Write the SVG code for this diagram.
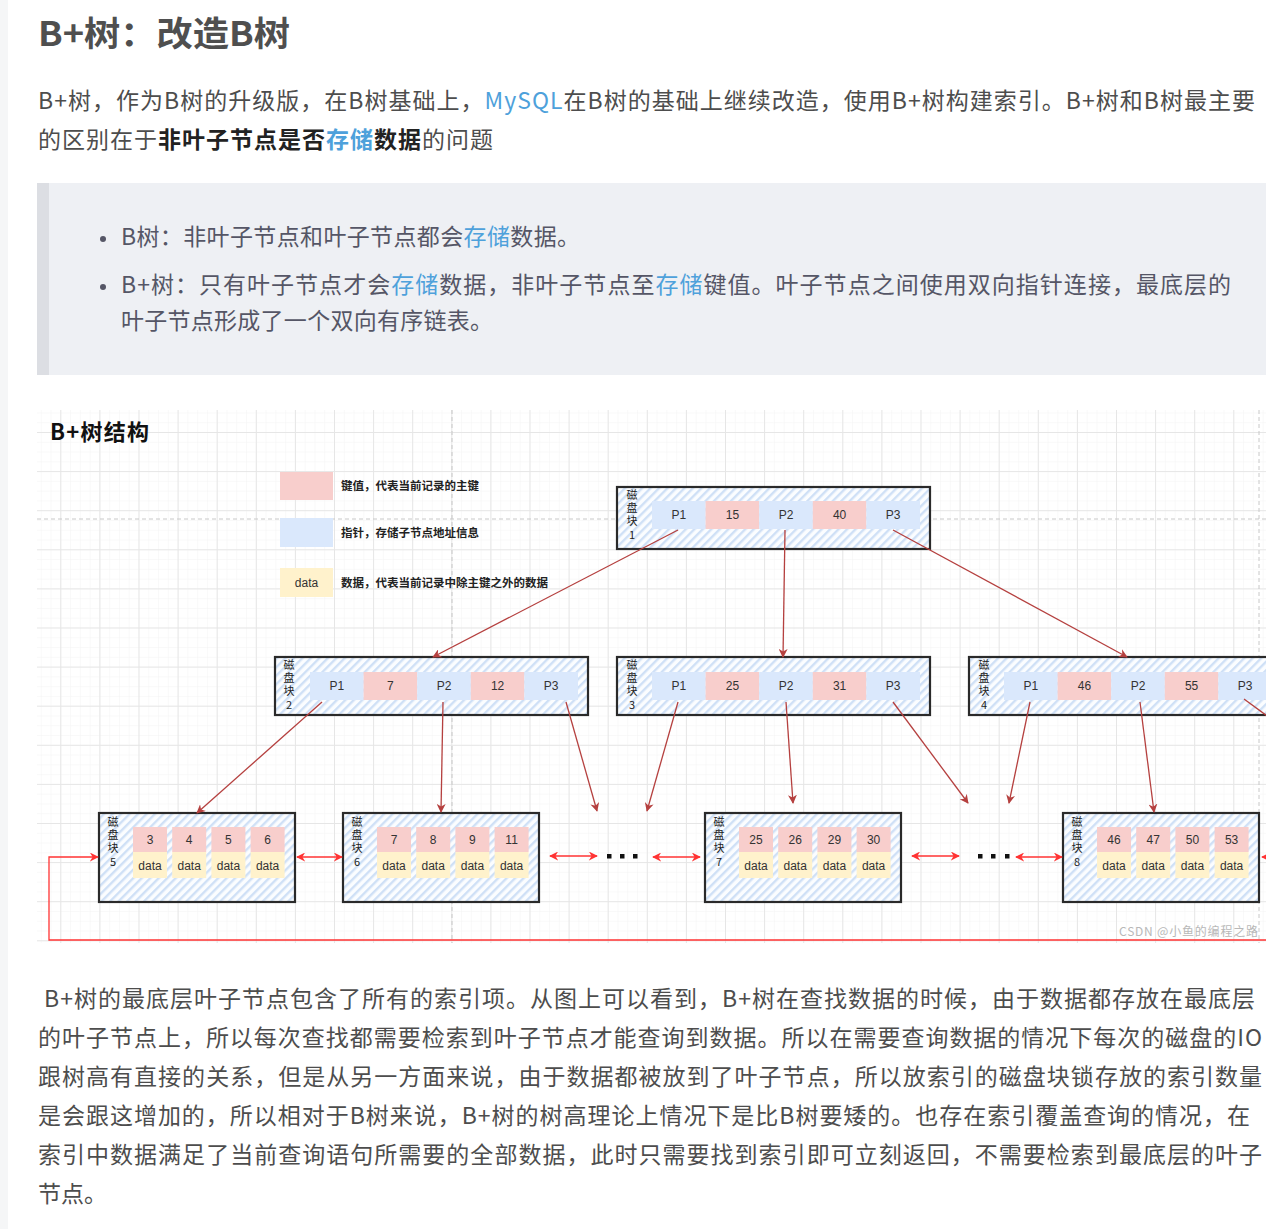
<svg xmlns="http://www.w3.org/2000/svg" width="1286" height="1229" viewBox="0 0 1286 1229">
<defs>
<style>
.body{font-family:"Noto Sans CJK SC","Liberation Sans",sans-serif;font-size:23px;fill:#4d4d4d}
.bq{font-family:"Noto Sans CJK SC","Liberation Sans",sans-serif;font-size:23px;fill:#555666}
.lnk{fill:#4ea1db}
.b{font-weight:bold;fill:#222}
.cell{font-family:"Liberation Sans","Noto Sans CJK SC",sans-serif;font-size:12px;fill:#333;text-anchor:middle}
.lbl{font-family:"Noto Sans CJK SC",sans-serif;font-size:11px;fill:#222;writing-mode:vertical-rl;text-orientation:upright;letter-spacing:2.4px}
.leg{font-family:"Noto Sans CJK SC",sans-serif;font-size:11.5px;font-weight:bold;fill:#222}
.node{fill:url(#hatch);stroke:#2a2a2a;stroke-width:2.2}
.k{fill:#f8cecc}
.p{fill:#dae8fc}
.d{fill:#fff2cc}
.tree{stroke:#b5403f;stroke-width:1.3;fill:none;marker-end:url(#ah)}
.lnkarr{stroke:#ff3333;stroke-width:1.3;fill:none;marker-end:url(#ar);marker-start:url(#arS)}
</style>
<pattern id="hatch" patternUnits="userSpaceOnUse" width="6" height="6" patternTransform="rotate(45)">
<rect width="6" height="6" fill="#fbfdff"/>
<rect x="0" y="0" width="2.4" height="6" fill="#cfe0f6"/>
</pattern>
<pattern id="minor" patternUnits="userSpaceOnUse" x="60.3" y="432" width="9.775" height="9.775">
<path d="M0,0 H9.775 M0,0 V9.775" stroke="#f4f4f4" stroke-width="1" fill="none"/>
</pattern>
<pattern id="major" patternUnits="userSpaceOnUse" x="60.3" y="432" width="39.1" height="39.1">
<path d="M0,0.5 H39.1 M0.5,0 V39.1" stroke="#e6e6e6" stroke-width="1" fill="none"/>
</pattern>
<marker id="ah" viewBox="0 0 10 10" refX="9" refY="5" markerWidth="9" markerHeight="9" markerUnits="userSpaceOnUse" orient="auto">
<path d="M0,0 L10,5 L0,10 L3,5 z" fill="#b5403f"/>
</marker>
<marker id="ar" viewBox="0 0 10 10" refX="9" refY="5" markerWidth="9" markerHeight="9" markerUnits="userSpaceOnUse" orient="auto">
<path d="M0,0 L10,5 L0,10 L3,5 z" fill="#ff3333"/>
</marker>
<marker id="arS" viewBox="0 0 10 10" refX="1" refY="5" markerWidth="9" markerHeight="9" markerUnits="userSpaceOnUse" orient="auto">
<path d="M10,0 L0,5 L10,10 L7,5 z" fill="#ff3333"/>
</marker>
<clipPath id="dclip"><rect x="37" y="410" width="1229" height="533"/></clipPath>
</defs>

<rect width="1286" height="1229" fill="#ffffff"/>
<rect x="0" y="0" width="8" height="1229" fill="#f5f6f7"/>

<g id="heading">
<text x="38" y="46" font-family="'Noto Sans CJK SC','Liberation Sans',sans-serif" font-size="34" font-weight="bold" fill="#4f4f4f" textLength="252" lengthAdjust="spacingAndGlyphs">B+树：改造B树</text>
</g>

<g id="intro">
<text class="body" x="38" y="109" textLength="1217">B+树，作为B树的升级版，在B树基础上，<tspan class="lnk">MySQL</tspan>在B树的基础上继续改造，使用B+树构建索引。B+树和B树最主要</text>
<text class="body" x="38" y="148" textLength="455">的区别在于<tspan class="b">非叶子节点是否</tspan><tspan class="b lnk" style="fill:#4ea1db">存储</tspan><tspan class="b">数据</tspan>的问题</text>
</g>

<g id="blockquote">
<rect x="37" y="183" width="1229" height="192" fill="#eef0f4"/>
<rect x="37" y="183" width="12" height="192" fill="#dcdee3"/>
<circle cx="103" cy="239" r="3" fill="#555666"/>
<circle cx="103" cy="287" r="3" fill="#555666"/>
<text class="bq" x="121" y="245" textLength="459">B树：非叶子节点和叶子节点都会<tspan class="lnk">存储</tspan>数据。</text>
<text class="bq" x="121" y="293" textLength="1110">B+树：只有叶子节点才会<tspan class="lnk">存储</tspan>数据，非叶子节点至<tspan class="lnk">存储</tspan>键值。叶子节点之间使用双向指针连接，最底层的</text>
<text class="bq" x="121" y="329" textLength="372">叶子节点形成了一个双向有序链表。</text>
</g>

<g id="diagram" clip-path="url(#dclip)">
<rect x="37" y="410" width="1229" height="533" fill="#ffffff"/>
<rect x="37" y="410" width="1229" height="533" fill="url(#minor)"/>
<rect x="37" y="410" width="1229" height="533" fill="url(#major)"/>
<path d="M37,519 H1266 M452,410 V943 M1259,410 V943" stroke="#c8c8c8" stroke-width="1" stroke-dasharray="4,3" fill="none"/>

<text x="50" y="440" font-family="'Noto Sans CJK SC',sans-serif" font-size="22" font-weight="bold" fill="#111" textLength="99">B+树结构</text>

<g id="legend">
<rect x="280" y="472" width="53" height="28" class="k"/>
<text class="leg" x="341" y="490">键值，代表当前记录的主键</text>
<rect x="280" y="518" width="53" height="29" class="p"/>
<text class="leg" x="341" y="537">指针，存储子节点地址信息</text>
<rect x="280" y="568" width="53" height="29" class="d"/>
<text class="cell" x="306.5" y="587">data</text>
<text class="leg" x="341" y="587">数据，代表当前记录中除主键之外的数据</text>
</g>

<g id="block1">
<rect class="node" x="617" y="487" width="313" height="62"/>
<text class="lbl" x="632" y="489">磁盘块1</text>
<rect class="p" x="652" y="501" width="53.6" height="28"/><rect class="k" x="705.6" y="501" width="53.6" height="28"/><rect class="p" x="759.2" y="501" width="53.6" height="28"/><rect class="k" x="812.8" y="501" width="53.6" height="28"/><rect class="p" x="866.4" y="501" width="53.6" height="28"/>
<text class="cell" y="519"><tspan x="678.8">P1</tspan><tspan x="732.4">15</tspan><tspan x="786">P2</tspan><tspan x="839.6">40</tspan><tspan x="893.2">P3</tspan></text>
</g>

<g id="block2">
<rect class="node" x="275" y="657" width="313" height="58"/>
<text class="lbl" x="289" y="659">磁盘块2</text>
<rect class="p" x="310" y="672" width="53.6" height="28"/><rect class="k" x="363.6" y="672" width="53.6" height="28"/><rect class="p" x="417.2" y="672" width="53.6" height="28"/><rect class="k" x="470.8" y="672" width="53.6" height="28"/><rect class="p" x="524.4" y="672" width="53.6" height="28"/>
<text class="cell" y="690"><tspan x="336.8">P1</tspan><tspan x="390.4">7</tspan><tspan x="444">P2</tspan><tspan x="497.6">12</tspan><tspan x="551.2">P3</tspan></text>
</g>

<g id="block3">
<rect class="node" x="617" y="657" width="313" height="58"/>
<text class="lbl" x="632" y="659">磁盘块3</text>
<rect class="p" x="652" y="672" width="53.6" height="28"/><rect class="k" x="705.6" y="672" width="53.6" height="28"/><rect class="p" x="759.2" y="672" width="53.6" height="28"/><rect class="k" x="812.8" y="672" width="53.6" height="28"/><rect class="p" x="866.4" y="672" width="53.6" height="28"/>
<text class="cell" y="690"><tspan x="678.8">P1</tspan><tspan x="732.4">25</tspan><tspan x="786">P2</tspan><tspan x="839.6">31</tspan><tspan x="893.2">P3</tspan></text>
</g>

<g id="block4">
<rect class="node" x="969" y="657" width="313" height="58"/>
<text class="lbl" x="984" y="659">磁盘块4</text>
<rect class="p" x="1004" y="672" width="53.6" height="28"/><rect class="k" x="1057.6" y="672" width="53.6" height="28"/><rect class="p" x="1111.2" y="672" width="53.6" height="28"/><rect class="k" x="1164.8" y="672" width="53.6" height="28"/><rect class="p" x="1218.4" y="672" width="53.6" height="28"/>
<text class="cell" y="690"><tspan x="1030.8">P1</tspan><tspan x="1084.4">46</tspan><tspan x="1138">P2</tspan><tspan x="1191.6">55</tspan><tspan x="1245.2">P3</tspan></text>
</g>

<g id="block5">
<rect class="node" x="99" y="813" width="196" height="89"/>
<text class="lbl" x="113" y="816">磁盘块5</text>
<rect class="k" x="133" y="827" width="34" height="25"/><rect class="k" x="172.2" y="827" width="34" height="25"/><rect class="k" x="211.4" y="827" width="34" height="25"/><rect class="k" x="250.6" y="827" width="34" height="25"/>
<rect class="d" x="133" y="852" width="34" height="26"/><rect class="d" x="172.2" y="852" width="34" height="26"/><rect class="d" x="211.4" y="852" width="34" height="26"/><rect class="d" x="250.6" y="852" width="34" height="26"/>
<text class="cell" y="844"><tspan x="150">3</tspan><tspan x="189.2">4</tspan><tspan x="228.4">5</tspan><tspan x="267.6">6</tspan></text>
<text class="cell" y="870"><tspan x="150">data</tspan><tspan x="189.2">data</tspan><tspan x="228.4">data</tspan><tspan x="267.6">data</tspan></text>
</g>

<g id="block6">
<rect class="node" x="343" y="813" width="196" height="89"/>
<text class="lbl" x="357" y="816">磁盘块6</text>
<rect class="k" x="377" y="827" width="34" height="25"/><rect class="k" x="416.2" y="827" width="34" height="25"/><rect class="k" x="455.4" y="827" width="34" height="25"/><rect class="k" x="494.6" y="827" width="34" height="25"/>
<rect class="d" x="377" y="852" width="34" height="26"/><rect class="d" x="416.2" y="852" width="34" height="26"/><rect class="d" x="455.4" y="852" width="34" height="26"/><rect class="d" x="494.6" y="852" width="34" height="26"/>
<text class="cell" y="844"><tspan x="394">7</tspan><tspan x="433.2">8</tspan><tspan x="472.4">9</tspan><tspan x="511.6">11</tspan></text>
<text class="cell" y="870"><tspan x="394">data</tspan><tspan x="433.2">data</tspan><tspan x="472.4">data</tspan><tspan x="511.6">data</tspan></text>
</g>

<g id="block7">
<rect class="node" x="705" y="813" width="196" height="89"/>
<text class="lbl" x="719" y="816">磁盘块7</text>
<rect class="k" x="739" y="827" width="34" height="25"/><rect class="k" x="778.2" y="827" width="34" height="25"/><rect class="k" x="817.4" y="827" width="34" height="25"/><rect class="k" x="856.6" y="827" width="34" height="25"/>
<rect class="d" x="739" y="852" width="34" height="26"/><rect class="d" x="778.2" y="852" width="34" height="26"/><rect class="d" x="817.4" y="852" width="34" height="26"/><rect class="d" x="856.6" y="852" width="34" height="26"/>
<text class="cell" y="844"><tspan x="756">25</tspan><tspan x="795.2">26</tspan><tspan x="834.4">29</tspan><tspan x="873.6">30</tspan></text>
<text class="cell" y="870"><tspan x="756">data</tspan><tspan x="795.2">data</tspan><tspan x="834.4">data</tspan><tspan x="873.6">data</tspan></text>
</g>

<g id="block8">
<rect class="node" x="1063" y="813" width="196" height="89"/>
<text class="lbl" x="1077" y="816">磁盘块8</text>
<rect class="k" x="1097" y="827" width="34" height="25"/><rect class="k" x="1136.2" y="827" width="34" height="25"/><rect class="k" x="1175.4" y="827" width="34" height="25"/><rect class="k" x="1214.6" y="827" width="34" height="25"/>
<rect class="d" x="1097" y="852" width="34" height="26"/><rect class="d" x="1136.2" y="852" width="34" height="26"/><rect class="d" x="1175.4" y="852" width="34" height="26"/><rect class="d" x="1214.6" y="852" width="34" height="26"/>
<text class="cell" y="844"><tspan x="1114">46</tspan><tspan x="1153.2">47</tspan><tspan x="1192.4">50</tspan><tspan x="1231.6">53</tspan></text>
<text class="cell" y="870"><tspan x="1114">data</tspan><tspan x="1153.2">data</tspan><tspan x="1192.4">data</tspan><tspan x="1231.6">data</tspan></text>
</g>

<g id="connectors">
<line class="tree" x1="678" y1="530" x2="433" y2="657"/>
<line class="tree" x1="785" y1="530" x2="783" y2="657"/>
<line class="tree" x1="893" y1="530" x2="1127" y2="657"/>
<line class="tree" x1="322" y1="702" x2="197" y2="813"/>
<line class="tree" x1="443" y1="702" x2="441" y2="812"/>
<line class="tree" x1="566" y1="702" x2="597" y2="811"/>
<line class="tree" x1="678" y1="702" x2="647" y2="811"/>
<line class="tree" x1="786" y1="702" x2="793" y2="803"/>
<line class="tree" x1="893" y1="702" x2="968" y2="803"/>
<line class="tree" x1="1030" y1="702" x2="1009" y2="803"/>
<line class="tree" x1="1140" y1="702" x2="1154" y2="812"/>
<line x1="1244" y1="699" x2="1270" y2="718" stroke="#b5403f" stroke-width="1.3"/>

<line class="lnkarr" x1="297" y1="857" x2="342" y2="857"/>
<line class="lnkarr" x1="550" y1="856" x2="597" y2="856"/>
<line class="lnkarr" x1="653" y1="857" x2="700" y2="857"/>
<line class="lnkarr" x1="912" y1="856" x2="959" y2="856"/>
<line class="lnkarr" x1="1016" y1="857" x2="1062" y2="857"/>
<line x1="1262" y1="857" x2="1280" y2="857" stroke="#ff3333" stroke-width="1.3" marker-start="url(#arS)"/>
<path d="M1270,940 H49 V857 H98" stroke="#ff3333" stroke-width="1.3" fill="none" marker-end="url(#ar)"/>

<g fill="#111">
<rect x="607" y="854" width="4.5" height="4.5"/><rect x="620" y="854" width="4.5" height="4.5"/><rect x="633" y="854" width="4.5" height="4.5"/>
<rect x="978" y="854" width="4.5" height="4.5"/><rect x="991" y="854" width="4.5" height="4.5"/><rect x="1005" y="854" width="4.5" height="4.5"/>
</g>
</g>

<text x="1119" y="936" font-family="'Noto Sans CJK SC','Liberation Sans',sans-serif" font-size="12" fill="#b8b8b8" textLength="139">CSDN @小鱼的编程之路</text>
</g>

<g id="outro">
<text class="body" x="44" y="1007" textLength="1211"> B+树的最底层叶子节点包含了所有的索引项。从图上可以看到，B+树在查找数据的时候，由于数据都存放在最底层</text>
<text class="body" x="38" y="1046" textLength="1224">的叶子节点上，所以每次查找都需要检索到叶子节点才能查询到数据。所以在需要查询数据的情况下每次的磁盘的IO</text>
<text class="body" x="38" y="1085" textLength="1224">跟树高有直接的关系，但是从另一方面来说，由于数据都被放到了叶子节点，所以放索引的磁盘块锁存放的索引数量</text>
<text class="body" x="38" y="1124" textLength="1212">是会跟这增加的，所以相对于B树来说，B+树的树高理论上情况下是比B树要矮的。也存在索引覆盖查询的情况，在</text>
<text class="body" x="38" y="1163" textLength="1224">索引中数据满足了当前查询语句所需要的全部数据，此时只需要找到索引即可立刻返回，不需要检索到最底层的叶子</text>
<text class="body" x="38" y="1202">节点。</text>
</g>
</svg>
